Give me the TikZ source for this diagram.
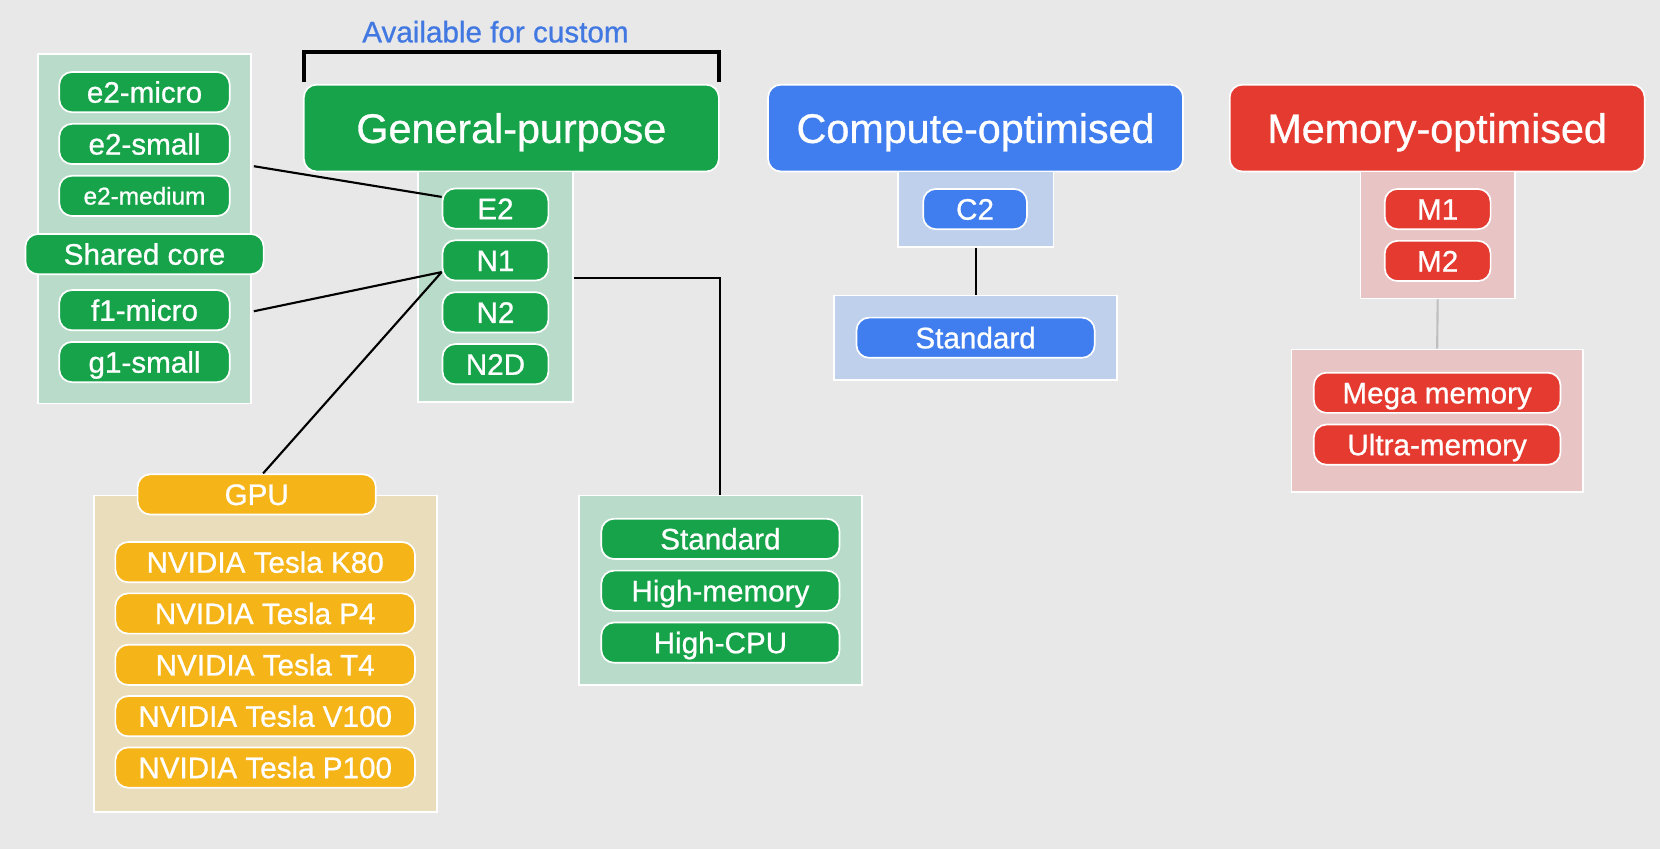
\documentclass[tikz,border=0pt]{standalone}
\usepackage{fontspec}
\setmainfont{Liberation Sans}[FakeBold=0.8]
\usetikzlibrary{calc}
\definecolor{bg}{RGB}{232,232,232}
\definecolor{gp}{RGB}{22,163,74}
\definecolor{cb}{RGB}{64,126,240}
\definecolor{mr}{RGB}{229,58,48}
\definecolor{gy}{RGB}{245,180,24}
\definecolor{pgreen}{RGB}{184,220,201}
\definecolor{pblue}{RGB}{190,208,236}
\definecolor{pred}{RGB}{232,196,196}
\definecolor{ptan}{RGB}{234,221,188}
\definecolor{availblue}{RGB}{66,120,225}
\tikzset{
  pill/.style={draw=white, line width=0.8pt, rounded corners=6pt, text=white,
    font=\fontsize{14}{14}\selectfont, inner sep=0pt, minimum height=19pt,
    text height=10pt, text depth=0pt},
  header/.style={draw=white, line width=0.8pt, rounded corners=6pt, text=white,
    font=\fontsize{19.5}{19.5}\selectfont, inner sep=0pt, minimum width=196pt, minimum height=41pt,
    text height=14pt, text depth=0pt},
  panel/.style={draw=white, line width=0.8pt, inner sep=0pt},
  conn/.style={draw=black, line width=1pt},
}
\begin{document}
\begin{tikzpicture}[x=0.5pt, y=-0.5pt]
\fill[bg] (0,0) rectangle (1568,802);
\useasboundingbox (0,0) rectangle (1568,802);

% Bracket and label
\coordinate (bl) at (287,77);
\coordinate (br) at (679,77);
\draw[line width=1.8pt] (bl) -- ++(0,-28) -| (br);
\node[text=availblue, font=\fontsize{14}{14}\selectfont, text height=10pt, text depth=0pt, inner sep=0pt] (avail) at (468,30) {Available for custom};

% Headers
\node[header, fill=gp] (gph) at (483,121) {General-purpose};
\node[header, fill=cb] (coh) at (921.5,121) {Compute-optimised};
\node[header, fill=mr] (moh) at (1357.5,121) {Memory-optimised};

% Panels
\node[panel, fill=pgreen, minimum width=73pt, minimum height=109pt] (gppanel) at (468,271) {};
\node[panel, fill=pgreen, minimum width=100.5pt, minimum height=165pt] (leftpanel) at (136.5,216) {};
\node[panel, fill=ptan, minimum width=162pt, minimum height=149.5pt] (gpupanel) at (251,617.5) {};
\node[panel, fill=pgreen, minimum width=133.5pt, minimum height=89.5pt] (gp2panel) at (680.5,557.5) {};
\node[panel, fill=pblue, minimum width=73.5pt, minimum height=35.5pt] (c2panel) at (921.5,197.5) {};
\node[panel, fill=pblue, minimum width=133.5pt, minimum height=40pt] (cstdpanel) at (921.5,319) {};
\node[panel, fill=pred, minimum width=73pt, minimum height=60pt] (mpanel) at (1358,222) {};
\node[panel, fill=pred, minimum width=137.5pt, minimum height=67.5pt] (mpanel2) at (1357.5,397.5) {};

% General-purpose families
\node[pill, fill=gp, minimum width=50pt] (E2) at (468,197) {E2};
\node[pill, fill=gp, minimum width=50pt] (N1) at (468,246) {N1};
\node[pill, fill=gp, minimum width=50pt] (N2) at (468,295) {N2};
\node[pill, fill=gp, minimum width=50pt] (N2D) at (468,344) {N2D};

% Shared core
\node[pill, fill=gp, minimum width=80.5pt] (e2micro) at (136.5,87) {e2-micro};
\node[pill, fill=gp, minimum width=80.5pt] (e2small) at (136.5,136) {e2-small};
\node[pill, fill=gp, minimum width=80.5pt, font=\fontsize{11.5}{11.5}\selectfont, text height=8.2pt] (e2medium) at (136.5,185) {e2-medium};
\node[pill, fill=gp, minimum width=112.5pt] (shared) at (136.5,240) {Shared core};
\node[pill, fill=gp, minimum width=80.5pt] (f1micro) at (136.5,293) {f1-micro};
\node[pill, fill=gp, minimum width=80.5pt] (g1small) at (136.5,342) {g1-small};

% GPU
\node[pill, fill=gy, minimum width=112.5pt] (gpu) at (242.5,467) {GPU};
\node[pill, fill=gy, minimum width=141.5pt] (k80) at (250.5,531) {NVIDIA Tesla K80};
\node[pill, fill=gy, minimum width=141.5pt] (p4) at (250.5,579.5) {NVIDIA Tesla P4};
\node[pill, fill=gy, minimum width=141.5pt] (t4) at (250.5,628) {NVIDIA Tesla T4};
\node[pill, fill=gy, minimum width=141.5pt] (v100) at (250.5,676.5) {NVIDIA Tesla V100};
\node[pill, fill=gy, minimum width=141.5pt] (p100) at (250.5,725) {NVIDIA Tesla P100};

% General-purpose machine types
\node[pill, fill=gp, minimum width=112.5pt] (gstd) at (680.5,509) {Standard};
\node[pill, fill=gp, minimum width=112.5pt] (ghm) at (680.5,558) {High-memory};
\node[pill, fill=gp, minimum width=112.5pt] (ghc) at (680.5,607) {High-CPU};

% Compute-optimised
\node[pill, fill=cb, minimum width=49pt] (C2) at (921,197.5) {C2};
\node[pill, fill=cb, minimum width=112.5pt] (cstd) at (921.5,319) {Standard};

% Memory-optimised
\node[pill, fill=mr, minimum width=50pt] (M1) at (1358,197.5) {M1};
\node[pill, fill=mr, minimum width=50pt] (M2) at (1358,246.5) {M2};
\node[pill, fill=mr, minimum width=116.5pt] (mega) at (1357.5,371) {Mega memory};
\node[pill, fill=mr, minimum width=116.5pt] (ultra) at (1357.5,420) {Ultra-memory};

% Connectors
\coordinate (n1w) at ($(N1.west)+(0,11)$);
\coordinate (e2w) at ($(E2.west)+(0,-11)$);
\draw[conn] ($(leftpanel.east)+(2,-59)$) -- (e2w);
\draw[conn] ($(leftpanel.east)+(2,78)$) -- (n1w);
\draw[conn] (n1w) -- ($(gpu.north)+(6,0)$);
\draw[conn] ($(gppanel.east)+(0,-8)$) -| (gp2panel.north);
\draw[conn] (c2panel.south) -- (cstdpanel.north);
\draw[draw=black!25, line width=1pt] (mpanel.south) -- (mpanel2.north);

\end{tikzpicture}
\end{document}
